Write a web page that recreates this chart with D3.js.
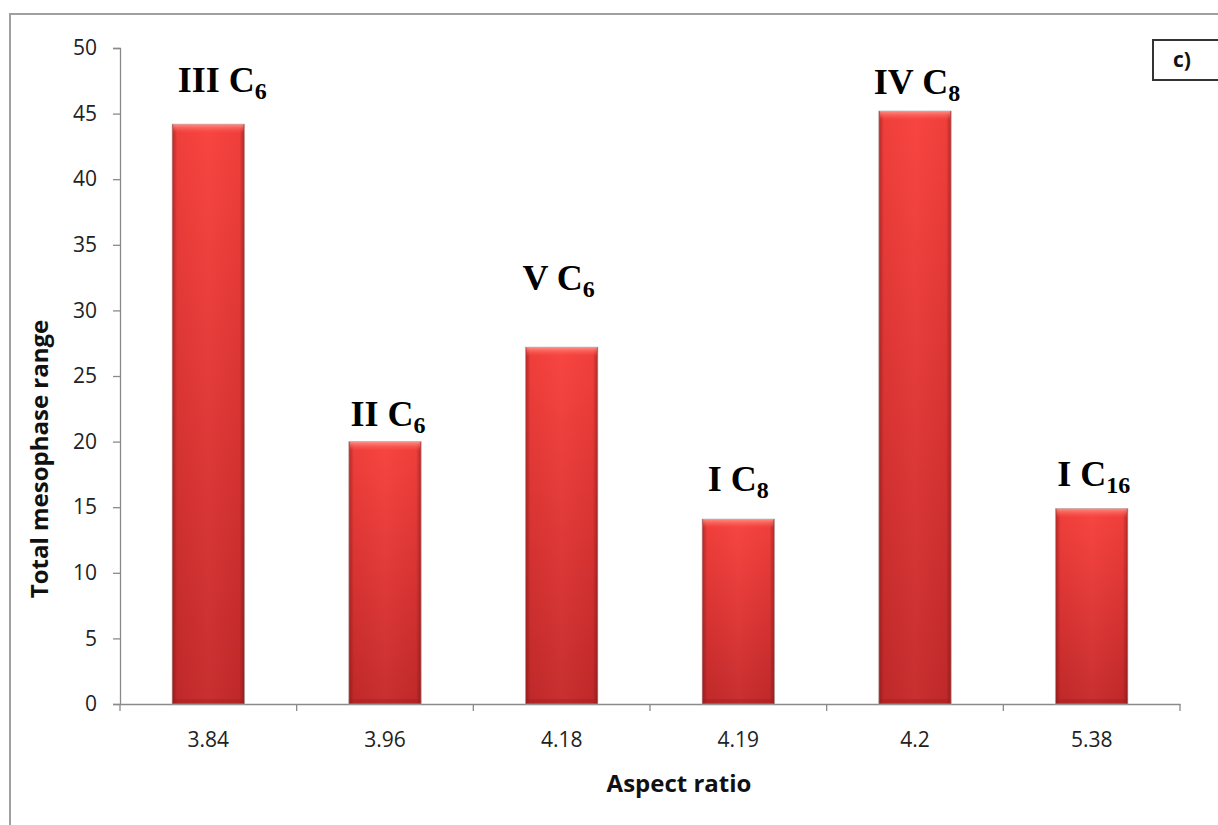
<!DOCTYPE html>
<html><head><meta charset="utf-8">
<script src="https://cdn.jsdelivr.net/npm/d3@7"></script>
<style>body{margin:0;background:#fff}svg{display:block}</style>
</head><body>
<svg id="c" width="1218" height="825"></svg>
<script>
const categories = ["3.84","3.96","4.18","4.19","4.2","5.38"];
const values = [44.2, 20, 27.2, 14.1, 45.2, 14.9];
const labelMain = ["III C","II C","V C","I C","IV C","I C"];
const labelSub = ["6","6","6","8","8","16"];
const yTicks = [0,5,10,15,20,25,30,35,40,45,50];
// label placement (pixels above bar top / horizontal shift), layout only
const labelLift = [32, 16, 57, 28, 17, 23];
const labelDx = [14, 3, -3, 0, 2, 2];

const SANS = "'Open Sans','Liberation Sans',sans-serif";
const SERIF = "'Liberation Serif','Times New Roman',serif";
const svg = d3.select("#c");
const m = {l:120, r:1180, t:48, b:704};

// outer frame
svg.append("rect").attr("x",10).attr("y",14).attr("width",1300).attr("height",900)
  .attr("fill","none").attr("stroke","#a0a0a0").attr("stroke-width",2);
// c) box
svg.append("rect").attr("x",1153).attr("y",40).attr("width",100).attr("height",40)
  .attr("fill","#fff").attr("stroke","#333").attr("stroke-width",2);
svg.append("text").attr("x",1182).attr("y",67).attr("text-anchor","middle")
  .attr("font-family",SANS).attr("font-weight","bold")
  .attr("font-size",21).attr("fill","#111").text("c)");

const x = d3.scaleBand().domain(categories).range([m.l, m.r]).paddingInner(0.59).paddingOuter(0.295);
const y = d3.scaleLinear().domain([0,50]).range([m.b, m.t]);

const defs = svg.append("defs");
const gv = defs.append("linearGradient").attr("id","gv").attr("x1",0).attr("y1",0).attr("x2",0).attr("y2",1);
gv.append("stop").attr("offset","0%").attr("stop-color","#f8423e");
gv.append("stop").attr("offset","100%").attr("stop-color","#c42a2b");
const gh = defs.append("linearGradient").attr("id","gh").attr("x1",0).attr("y1",0).attr("x2",1).attr("y2",0);
gh.append("stop").attr("offset","0%").attr("stop-color","#5a0a0a").attr("stop-opacity",0.45);
gh.append("stop").attr("offset","7%").attr("stop-color","#5a0a0a").attr("stop-opacity",0.05);
gh.append("stop").attr("offset","50%").attr("stop-color","#ff8080").attr("stop-opacity",0.06);
gh.append("stop").attr("offset","93%").attr("stop-color","#5a0a0a").attr("stop-opacity",0.05);
gh.append("stop").attr("offset","100%").attr("stop-color","#5a0a0a").attr("stop-opacity",0.45);
const gt = defs.append("linearGradient").attr("id","gt").attr("x1",0).attr("y1",0).attr("x2",0).attr("y2",1);
gt.append("stop").attr("offset","0%").attr("stop-color","#ff9a90").attr("stop-opacity",0.9);
gt.append("stop").attr("offset","100%").attr("stop-color","#ff5a50").attr("stop-opacity",0);

// axes
const ya = svg.append("g").attr("transform",`translate(${m.l},0)`)
  .call(d3.axisLeft(y).tickValues(yTicks).tickSize(7).tickPadding(16));
ya.select(".domain").attr("stroke","#8a8a8a").attr("stroke-width",1.3);
ya.selectAll(".tick line").attr("stroke","#8a8a8a").attr("stroke-width",1.3);
ya.selectAll(".tick text").attr("font-family",SANS).attr("font-size",21).attr("fill","#222");

const xa = svg.append("g").attr("transform",`translate(0,${m.b})`)
  .call(d3.axisBottom(x).tickSize(0).tickPadding(28));
xa.select(".domain").attr("stroke","#8a8a8a").attr("stroke-width",1.3);
xa.selectAll(".tick text").attr("font-family",SANS).attr("font-size",21).attr("fill","#222");
// category boundary ticks
const bounds = d3.range(categories.length+1).map(i => m.l + i*(m.r-m.l)/categories.length);
xa.selectAll("line.bt").data(bounds).enter().append("line").attr("class","bt")
  .attr("x1",d=>d).attr("x2",d=>d).attr("y1",0).attr("y2",7)
  .attr("stroke","#8a8a8a").attr("stroke-width",1.3);

// bars
const bars = svg.append("g");
categories.forEach((c,i)=>{
  const bx = x(c), bw = x.bandwidth(), by = y(values[i]), bh = y(0)-y(values[i]);
  bars.append("rect").attr("x",bx).attr("y",by).attr("width",bw).attr("height",bh).attr("fill","url(#gv)");
  bars.append("rect").attr("x",bx).attr("y",by).attr("width",bw).attr("height",bh).attr("fill","url(#gh)");
  bars.append("rect").attr("x",bx+1).attr("y",by).attr("width",bw-2).attr("height",9).attr("fill","url(#gt)");
  bars.append("rect").attr("x",bx).attr("y",y(0)-5).attr("width",bw).attr("height",5).attr("fill","#a01c1c").attr("opacity",0.35);
  bars.append("rect").attr("x",bx).attr("y",by).attr("width",bw).attr("height",bh)
    .attr("fill","none").attr("stroke","#b8b8b8").attr("stroke-width",1).attr("opacity",0.6);
  const t = svg.append("text").attr("x",bx+bw/2+labelDx[i]).attr("y",by-labelLift[i]).attr("text-anchor","middle")
    .attr("font-family",SERIF).attr("font-weight","bold")
    .attr("font-size",36).attr("fill","#000");
  t.append("tspan").text(labelMain[i]);
  t.append("tspan").attr("dy",7).attr("font-size",24).text(labelSub[i]);
});

// axis titles
svg.append("text").attr("transform","translate(48,459) rotate(-90)").attr("text-anchor","middle")
  .attr("font-family",SANS).attr("font-weight","bold")
  .attr("font-size",24).attr("fill","#111").text("Total mesophase range");
svg.append("text").attr("x",679).attr("y",792).attr("text-anchor","middle")
  .attr("font-family",SANS).attr("font-weight","bold")
  .attr("font-size",24).attr("fill","#111").text("Aspect ratio");
</script>
</body></html>
